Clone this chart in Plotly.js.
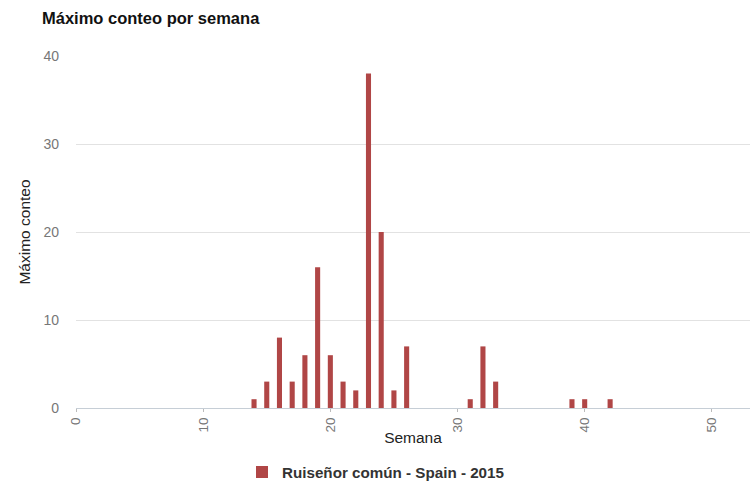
<!DOCTYPE html>
<html>
<head>
<meta charset="utf-8">
<script src="https://cdn.plot.ly/plotly-3.0.1.min.js"></script>
<style>html,body{margin:0;padding:0;background:#fff;}#chart{width:752px;height:481px;}</style>
</head>
<body>
<div id="chart"></div>
<script>
const weeks = [14,15,16,17,18,19,20,21,22,23,24,25,26,31,32,33,39,40,42];
const maxCounts = [1,3,8,3,6,16,6,3,2,38,20,2,7,1,7,3,1,1,1];
const seriesName = 'Ruiseñor común - Spain - 2015';
const xTicks = [0,10,20,30,40,50];
const yTicks = [0,10,20,30,40];

const font = 'Arial, "Liberation Sans", sans-serif';
const trace = {
  type: 'bar', x: weeks, y: maxCounts, name: seriesName,
  marker: {color: '#b04646'}, showlegend: true
};
const layout = {
  width: 752, height: 481,
  margin: {l: 76, r: 2, t: 56, b: 73},
  paper_bgcolor: '#fff', plot_bgcolor: '#fff',
  font: {family: font, color: '#444'},
  bargap: 0.6,
  title: {text: '<b>Máximo conteo por semana</b>', x: 42/752, xref: 'container', xanchor: 'left', y: 1 - 18/481, yref: 'container', yanchor: 'middle', font: {size: 16.5, color: '#111', family: font}},
  xaxis: {
    range: [0, 53], tickvals: xTicks, ticktext: xTicks.map(String), tickangle: -90,
    ticks: 'outside', ticklen: 3, tickcolor: '#bbb', showgrid: false, zeroline: false,
    showline: true, linecolor: '#c6ced6', linewidth: 1,
    tickfont: {size: 13.5, color: '#777'},
    title: {text: 'Semana', font: {size: 15.5, color: '#222'}, standoff: 0}
  },
  yaxis: {
    range: [0, 40], tickvals: yTicks, showgrid: true, gridcolor: '#e2e2e2', zeroline: false,
    tickfont: {size: 14, color: '#777'}, ticks: '', ticklabelstandoff: 16,
    title: {text: 'Máximo conteo', font: {size: 15.5, color: '#222'}, standoff: 8}
  },
  legend: {orientation: 'h', xref: 'container', x: 0.5, xanchor: 'center', yref: 'container', y: 9/481, yanchor: 'middle', font: {size: 15.2, color: '#333', family: font, weight: 'bold'}}
};
Plotly.newPlot('chart', [trace], layout, {displayModeBar: false, staticPlot: true});
</script>
</body>
</html>
